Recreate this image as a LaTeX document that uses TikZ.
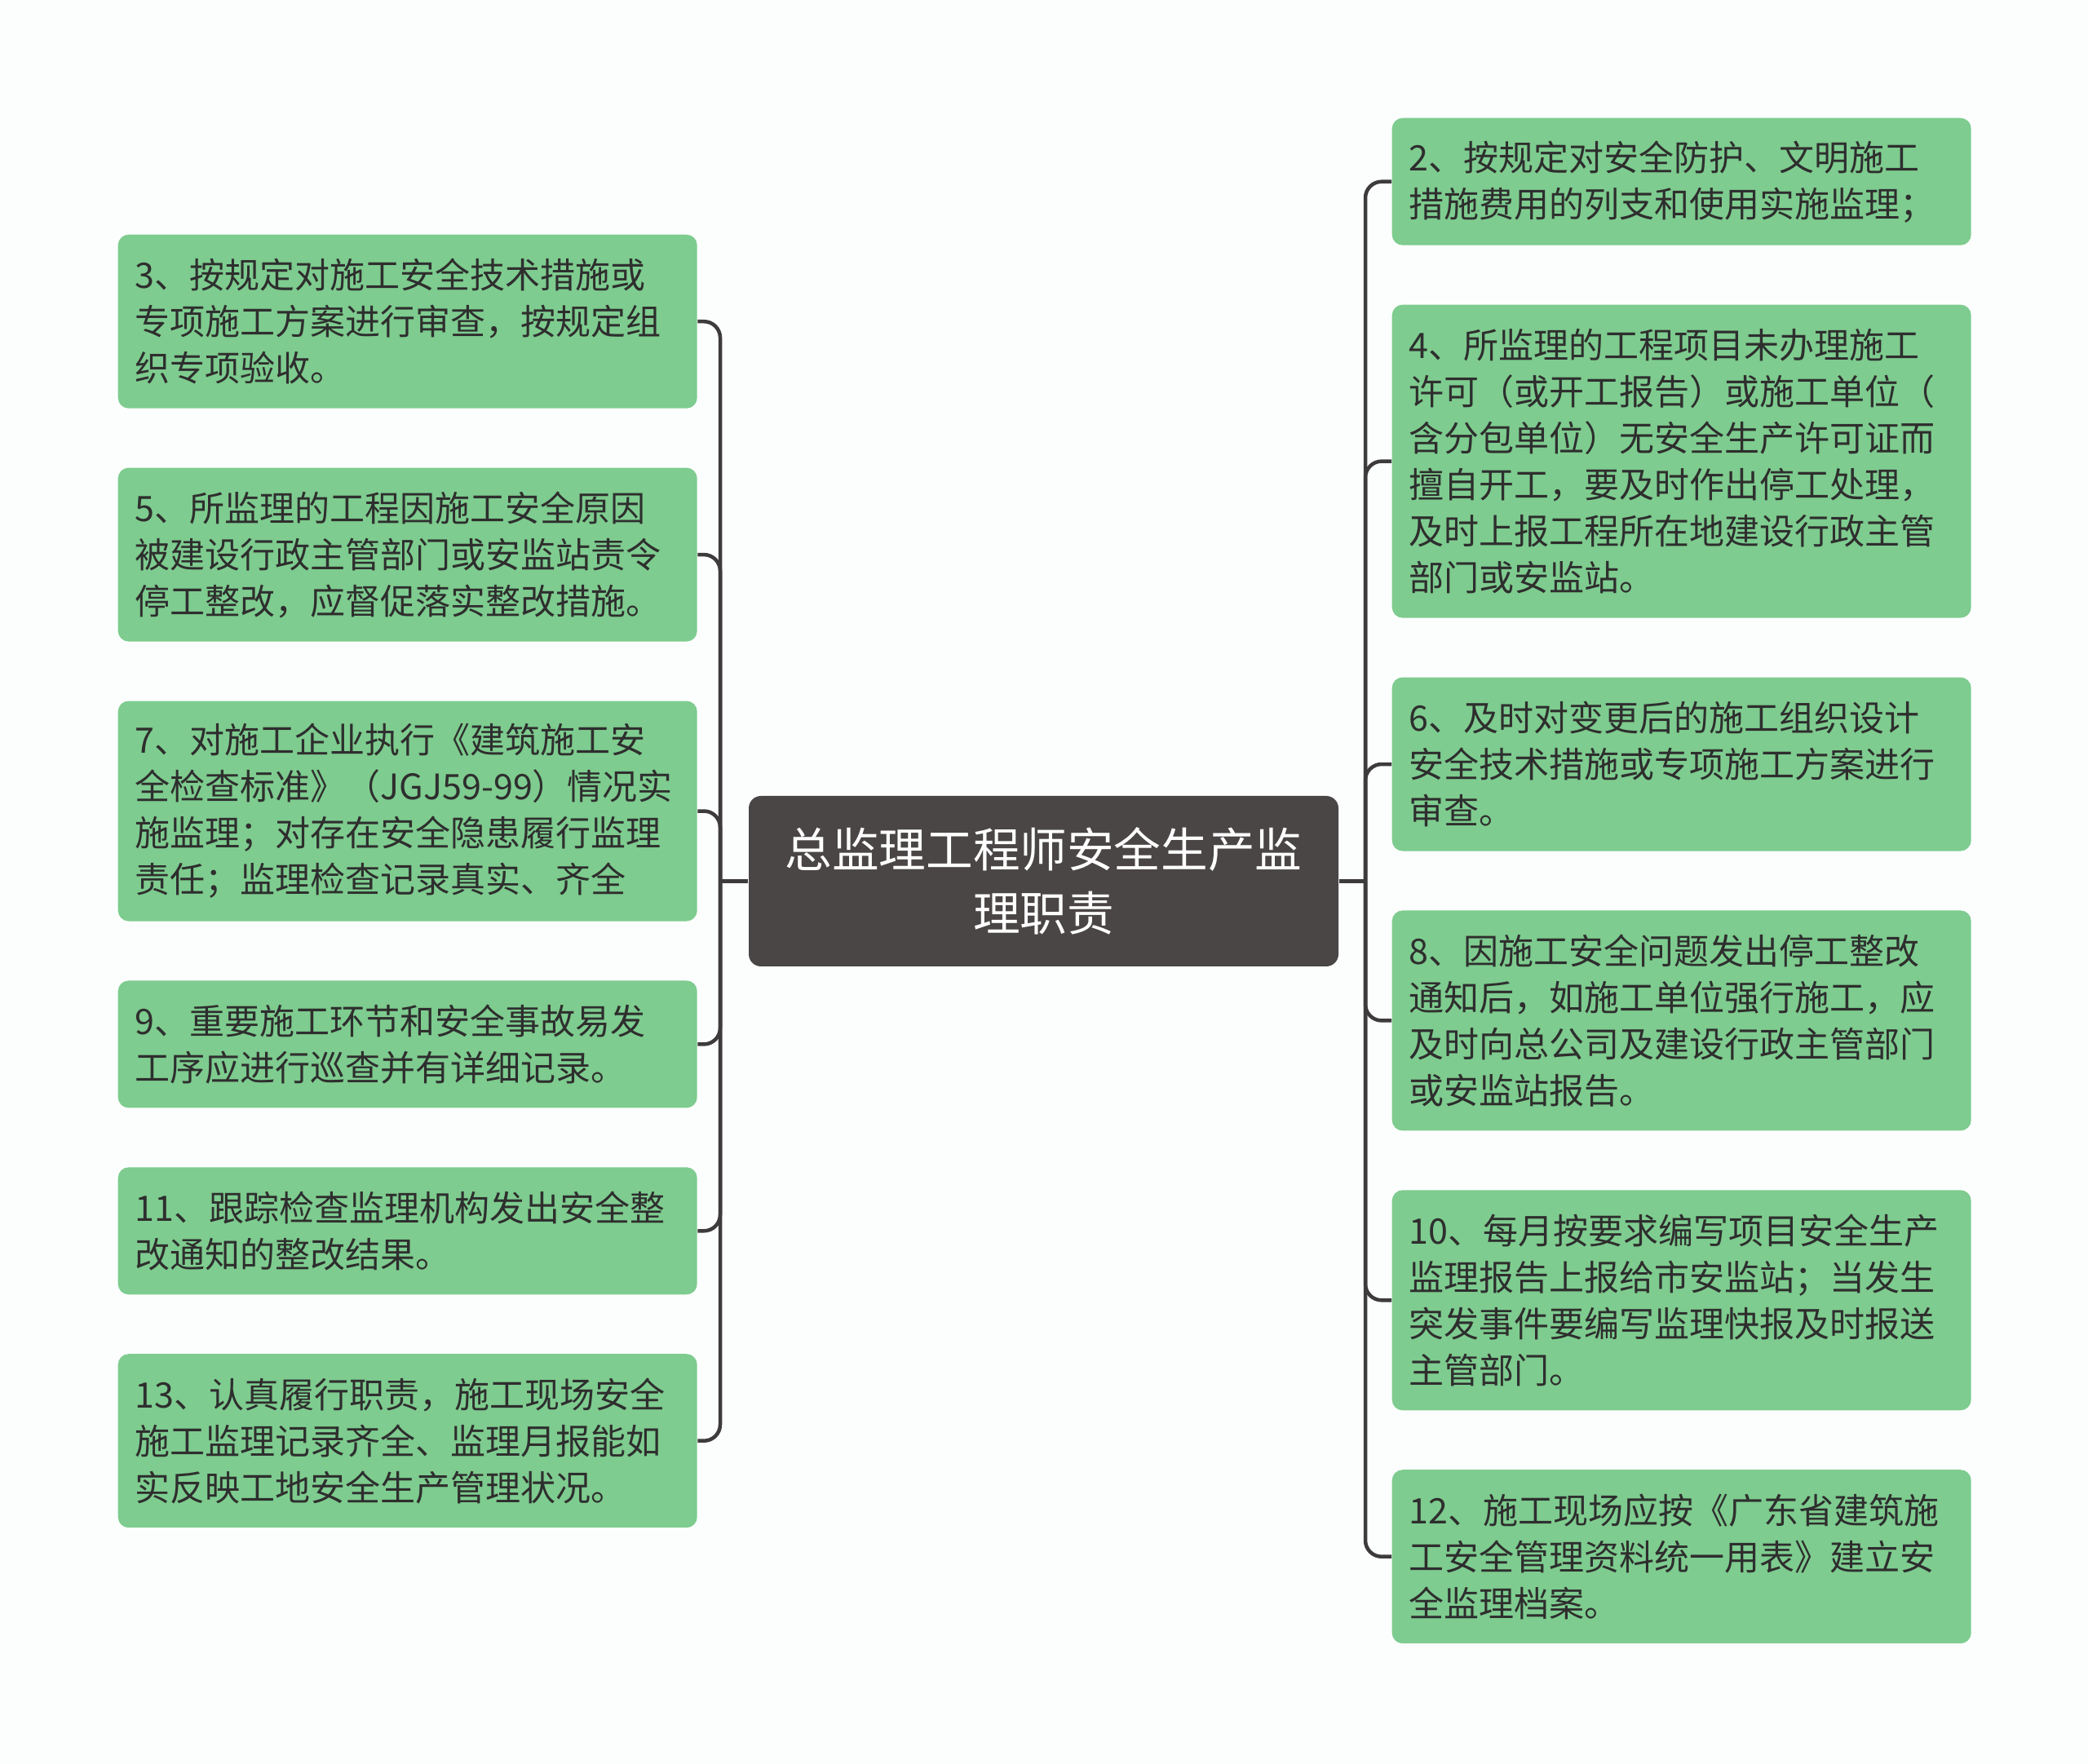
\documentclass[tikz,border=0pt]{standalone}
\usepackage{fontspec}
\newfontfamily\cjk{Noto Sans CJK SC}
\usepackage{tikz}
\usetikzlibrary{positioning}
\definecolor{leafgreen}{HTML}{7ECC8F}
\definecolor{rootgrey}{HTML}{4B4646}
\definecolor{linkgrey}{HTML}{3E3B3C}
\definecolor{textgrey}{HTML}{2E2E2E}
\definecolor{bgwhite}{HTML}{FCFEFE}
\tikzstyle{leaf}=[fill=leafgreen, rounded corners=0.13cm, text width=6.68cm, inner xsep=0.21cm, inner ysep=0cm, align=left, text=textgrey, font=\cjk\fontsize{12.24pt}{16.22pt}\selectfont]
\tikzstyle{root}=[fill=rootgrey, rounded corners=0.15cm, minimum width=7.23cm, minimum height=2.09cm, align=center, text=white, font=\cjk\fontsize{16.4pt}{22.2pt}\selectfont]
\tikzstyle{link}=[draw=linkgrey, line width=0.045cm, rounded corners=0.2cm]

\begin{document}
\begin{tikzpicture}[node distance=0.715cm]
            \fill[bgwhite] (0,0) rectangle (25.6,-21.63);
            \node[root] (root) at (12.795,-10.805) {总监理工程师安全生产监\\理职责};
            % left side
            \node[leaf, anchor=north west, minimum height=2.13cm] (L1) at (1.44,-2.87) {3、按规定对施工安全技术措施或\\专项施工方案进行审查，按规定组\\织专项验收。};
            \node[leaf, minimum height=2.13cm, below=of L1] (L2) {5、所监理的工程因施工安全原因\\被建设行政主管部门或安监站责令\\停工整改，应督促落实整改措施。};
            \node[leaf, minimum height=2.70cm, below=of L2] (L3) {7、对施工企业执行《建筑施工安\\全检查标准》（JGJ59-99）情况实\\施监理；对存在安全隐患履行监理\\责任；监理检查记录真实、齐全};
            \node[leaf, minimum height=1.56cm, below=of L3] (L4) {9、重要施工环节和安全事故易发\\工序应进行巡查并有详细记录。};
            \node[leaf, minimum height=1.56cm, below=of L4] (L5) {11、跟踪检查监理机构发出安全整\\改通知的整改结果。};
            \node[leaf, minimum height=2.13cm, below=of L5] (L6) {13、认真履行职责，施工现场安全\\施工监理记录齐全、监理月报能如\\实反映工地安全生产管理状况。};
            % right side
            \node[leaf, anchor=north west, minimum height=1.56cm] (R1) at (17.06,-1.44) {2、按规定对安全防护、文明施工\\措施费用的列支和使用实施监理；};
            \node[leaf, minimum height=3.84cm, below=of R1] (R2) {4、所监理的工程项目未办理施工\\许可（或开工报告）或施工单位（\\含分包单位）无安全生产许可证而\\擅自开工，要及时作出停工处理，\\及时上报工程所在地建设行政主管\\部门或安监站。};
            \node[leaf, minimum height=2.13cm, below=of R2] (R3) {6、及时对变更后的施工组织设计\\安全技术措施或专项施工方案进行\\审查。};
            \node[leaf, minimum height=2.70cm, below=of R3] (R4) {8、因施工安全问题发出停工整改\\通知后，如施工单位强行施工，应\\及时向总公司及建设行政主管部门\\或安监站报告。};
            \node[leaf, minimum height=2.70cm, below=of R4] (R5) {10、每月按要求编写项目安全生产\\监理报告上报给市安监站；当发生\\突发事件要编写监理快报及时报送\\主管部门。};
            \node[leaf, minimum height=2.13cm, below=of R5] (R6) {12、施工现场应按《广东省建筑施\\工安全管理资料统一用表》建立安\\全监理档案。};
            % connectors
            \coordinate (lt) at (8.83,-10.805);
            \coordinate (rt) at (16.74,-10.805);
            \draw[link] (root.west) -- (lt);
            \draw[link] (root.east) -- (rt);
            \foreach \n in {L1,L2,L3,L4,L5,L6}
                \draw[link] (lt) |- (\n.east);
            \foreach \n in {R1,R2,R3,R4,R5,R6}
                \draw[link] (rt) |- (\n.west);
\end{tikzpicture}
\end{document}
